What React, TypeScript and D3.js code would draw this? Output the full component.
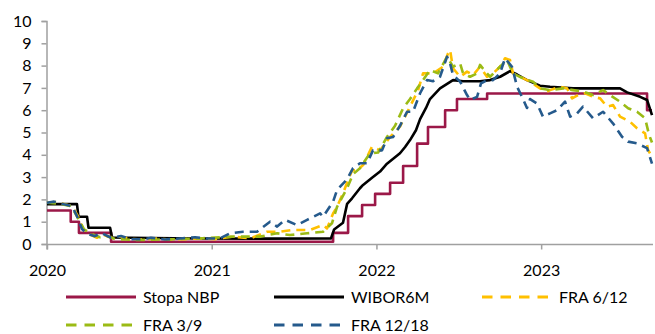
import React, { useEffect, useRef } from "react";
import * as d3 from "d3";

// Dates as decimal years, values in %
const stopaNBP: [number, number][] = [
  [2020.0, 1.5], [2020.144, 1.0], [2020.194, 0.5], [2020.389, 0.1], [2021.737, 0.5],
  [2021.828, 1.25], [2021.913, 1.75], [2021.992, 2.25], [2022.083, 2.75], [2022.162, 3.5],
  [2022.247, 4.5], [2022.313, 5.25], [2022.417, 6.0], [2022.489, 6.5], [2022.672, 6.75],
  [2023.643, 6.0], [2023.673, 6.0],
];

const wibor6M: [number, number][] = [
  [2020.0, 1.79], [2020.182, 1.79], [2020.191, 1.22], [2020.243, 1.22], [2020.252, 0.73],
  [2020.383, 0.73], [2020.395, 0.29], [2020.625, 0.27], [2020.929, 0.25], [2021.293, 0.24],
  [2021.724, 0.25], [2021.743, 0.65], [2021.797, 0.95], [2021.822, 1.8], [2021.852, 2.05],
  [2021.9, 2.5], [2021.919, 2.65], [2021.979, 3.0], [2022.022, 3.25], [2022.064, 3.6],
  [2022.143, 4.07], [2022.174, 4.35], [2022.204, 4.66], [2022.24, 5.1], [2022.265, 5.6],
  [2022.301, 6.1], [2022.325, 6.5], [2022.386, 6.98], [2022.465, 7.35], [2022.526, 7.3],
  [2022.629, 7.3], [2022.69, 7.35], [2022.751, 7.5], [2022.811, 7.75], [2022.854, 7.6],
  [2022.914, 7.35], [2022.993, 7.1], [2023.054, 7.05], [2023.194, 6.98], [2023.479, 6.98],
  [2023.522, 6.8], [2023.601, 6.6], [2023.643, 6.46], [2023.673, 5.78],
];

const fra612: [number, number][] = [
  [2020.0, 1.85], [2020.049, 1.88], [2020.109, 1.78], [2020.152, 1.7], [2020.188, 1.25],
  [2020.219, 0.66], [2020.255, 0.45], [2020.304, 0.28], [2020.346, 0.4], [2020.383, 0.3],
  [2020.443, 0.33], [2020.51, 0.22], [2020.589, 0.2], [2020.656, 0.25], [2020.747, 0.2],
  [2020.838, 0.22], [2020.929, 0.25], [2021.02, 0.22], [2021.129, 0.33], [2021.233, 0.25],
  [2021.336, 0.55], [2021.415, 0.55], [2021.494, 0.63], [2021.597, 0.63], [2021.676, 0.85],
  [2021.7, 0.7], [2021.737, 1.37], [2021.761, 1.67], [2021.797, 2.27], [2021.828, 2.87],
  [2021.852, 3.3], [2021.882, 3.3], [2021.919, 3.54], [2021.973, 4.36], [2022.022, 4.2],
  [2022.083, 4.8], [2022.143, 5.26], [2022.204, 6.16], [2022.253, 6.9], [2022.283, 7.65],
  [2022.344, 7.65], [2022.404, 7.95], [2022.435, 8.55], [2022.447, 8.7], [2022.465, 7.88],
  [2022.508, 7.5], [2022.55, 7.73], [2022.587, 7.58], [2022.629, 7.95], [2022.671, 7.5],
  [2022.708, 7.65], [2022.75, 7.95], [2022.781, 8.33], [2022.811, 8.25], [2022.829, 7.65],
  [2022.872, 7.5], [2022.933, 7.28], [2022.993, 6.98], [2023.036, 6.83], [2023.054, 6.9],
  [2023.115, 7.05], [2023.157, 6.98], [2023.188, 6.53], [2023.224, 6.68], [2023.267, 6.76],
  [2023.315, 6.6], [2023.358, 6.53], [2023.4, 6.16], [2023.437, 6.23], [2023.479, 5.71],
  [2023.54, 5.48], [2023.582, 5.19], [2023.631, 4.96], [2023.649, 4.22], [2023.673, 3.9],
];

const fra39: [number, number][] = [
  [2020.0, 1.85], [2020.079, 1.8], [2020.14, 1.7], [2020.164, 1.48], [2020.2, 1.0],
  [2020.225, 0.66], [2020.273, 0.45], [2020.322, 0.3], [2020.364, 0.36], [2020.413, 0.22],
  [2020.474, 0.2], [2020.565, 0.18], [2020.686, 0.2], [2020.808, 0.22], [2020.929, 0.25],
  [2021.129, 0.33], [2021.293, 0.33], [2021.397, 0.48], [2021.475, 0.4], [2021.579, 0.48],
  [2021.676, 0.55], [2021.73, 0.93], [2021.761, 1.67], [2021.822, 2.5], [2021.858, 3.13],
  [2021.9, 3.4], [2021.961, 4.07], [2022.01, 4.1], [2022.064, 4.8], [2022.113, 5.3],
  [2022.162, 6.09], [2022.204, 6.5], [2022.247, 6.98], [2022.283, 7.35], [2022.325, 7.8],
  [2022.374, 7.65], [2022.429, 8.4], [2022.465, 7.95], [2022.508, 8.1], [2022.526, 7.65],
  [2022.568, 7.5], [2022.611, 7.65], [2022.629, 8.03], [2022.671, 7.65], [2022.69, 7.5],
  [2022.75, 7.95], [2022.793, 8.25], [2022.829, 7.65], [2022.89, 7.43], [2022.951, 7.28],
  [2022.993, 6.98], [2023.054, 6.9], [2023.133, 6.98], [2023.194, 6.9], [2023.254, 6.83],
  [2023.315, 6.68], [2023.376, 6.9], [2023.418, 6.68], [2023.479, 6.38], [2023.528, 6.09],
  [2023.582, 5.93], [2023.631, 5.64], [2023.655, 4.9], [2023.673, 4.55],
];

const fra1218: [number, number][] = [
  [2020.0, 1.85], [2020.043, 1.9], [2020.103, 1.78], [2020.152, 1.7], [2020.182, 1.25],
  [2020.213, 0.66], [2020.255, 0.43], [2020.291, 0.35], [2020.328, 0.5], [2020.389, 0.28],
  [2020.449, 0.36], [2020.51, 0.21], [2020.589, 0.21], [2020.631, 0.28], [2020.716, 0.2],
  [2020.808, 0.25], [2020.899, 0.3], [2020.971, 0.25], [2021.05, 0.25], [2021.111, 0.48],
  [2021.19, 0.55], [2021.275, 0.55], [2021.354, 1.0], [2021.397, 0.78], [2021.445, 1.08],
  [2021.518, 0.85], [2021.579, 1.08], [2021.597, 1.15], [2021.658, 1.37], [2021.676, 1.22],
  [2021.737, 1.9], [2021.761, 2.42], [2021.822, 2.9], [2021.858, 3.4], [2021.9, 3.62],
  [2021.943, 3.62], [2021.979, 4.2], [2022.034, 4.2], [2022.064, 4.74], [2022.101, 4.8],
  [2022.143, 5.3], [2022.186, 5.93], [2022.222, 5.93], [2022.265, 6.76], [2022.307, 7.35],
  [2022.344, 7.3], [2022.386, 7.5], [2022.429, 8.4], [2022.447, 8.1], [2022.465, 7.58],
  [2022.508, 7.28], [2022.55, 6.68], [2022.568, 6.46], [2022.611, 6.6], [2022.635, 7.2],
  [2022.671, 7.35], [2022.708, 7.35], [2022.75, 7.65], [2022.781, 8.33], [2022.823, 7.95],
  [2022.854, 7.05], [2022.89, 6.5], [2022.914, 6.1], [2022.933, 6.5], [2022.975, 6.3],
  [2023.011, 5.71], [2023.054, 5.86], [2023.097, 6.0], [2023.145, 6.38], [2023.176, 5.71],
  [2023.218, 5.86], [2023.254, 6.16], [2023.315, 5.64], [2023.376, 5.93], [2023.437, 5.4],
  [2023.491, 4.81], [2023.528, 4.59], [2023.582, 4.51], [2023.643, 4.3], [2023.673, 3.6],
];

const yearTicks = [2020, 2021, 2022, 2023];
const valueTicks = [0, 1, 2, 3, 4, 5, 6, 7, 8, 9, 10];

const seriesNames = ["Stopa NBP", "WIBOR6M", "FRA 6/12", "FRA 3/9", "FRA 12/18"];
const seriesColors = ["#9B1848", "#000000", "#FFC000", "#9BBB15", "#255A8C"];
const seriesDashed = [false, false, true, true, true];
const seriesData = [stopaNBP, wibor6M, fra612, fra39, fra1218];

const W = 655;
const H = 334;
const FONT = "Lato, 'Liberation Sans', sans-serif";

export default function App() {
  const ref = useRef<SVGSVGElement | null>(null);

  useEffect(() => {
    const svg = d3.select(ref.current);
    svg.selectAll("*").remove();

    const x = d3.scaleLinear().domain([2020, 2023.673]).range([47, 652]);
    const y = d3.scaleLinear().domain([0, 10]).range([244, 21]);

    // axes
    const yAxis = svg
      .append("g")
      .attr("transform", "translate(46.5,0)")
      .call(
        d3.axisLeft(y).tickValues(valueTicks).tickFormat(d3.format("d")).tickSize(5).tickPadding(10)
      );
    const xAxis = svg
      .append("g")
      .attr("transform", "translate(0,244.5)")
      .call(
        d3.axisBottom(x).tickValues(yearTicks).tickFormat(d3.format("d")).tickSize(5).tickPadding(15)
      );
    [xAxis, yAxis].forEach((g) => {
      g.select(".domain").attr("stroke", "#A0A0A0").attr("stroke-width", 1.5);
      g.selectAll(".tick line").attr("stroke", "#A0A0A0").attr("stroke-width", 1.5);
      g.selectAll("text")
        .attr("font-family", FONT)
        .attr("font-size", 16)
        .attr("fill", "#000");
    });
    xAxis.select(".domain").attr("d", `M${x(2020)},5V0H${W - 2}`);

    // lines
    const stepLine = d3
      .line<[number, number]>()
      .x((d) => x(d[0]))
      .y((d) => y(d[1]))
      .curve(d3.curveStepAfter);
    const line = d3
      .line<[number, number]>()
      .x((d) => x(d[0]))
      .y((d) => y(d[1]));

    const plot = svg.append("g");
    seriesData.forEach((data, i) => {
      plot
        .append("path")
        .datum(data)
        .attr("d", i === 0 ? stepLine(data) : line(data))
        .attr("fill", "none")
        .attr("stroke", seriesColors[i])
        .attr("stroke-width", 2.6)
        .attr("stroke-linejoin", "round")
        .attr("stroke-dasharray", seriesDashed[i] ? "9,6" : null);
    });

    // legend
    const legendX = [66, 274, 482];
    const legendY = [297, 325];
    const legend = svg.append("g");
    seriesNames.forEach((name, i) => {
      const col = i % 3;
      const row = Math.floor(i / 3);
      const lx = legendX[col];
      const ly = legendY[row];
      legend
        .append("line")
        .attr("x1", lx)
        .attr("x2", lx + 70)
        .attr("y1", ly)
        .attr("y2", ly)
        .attr("stroke", seriesColors[i])
        .attr("stroke-width", 2.8)
        .attr("stroke-dasharray", seriesDashed[i] ? "10.5,8" : null);
      legend
        .append("text")
        .attr("x", lx + 77)
        .attr("y", ly)
        .attr("dy", "0.35em")
        .attr("font-family", FONT)
        .attr("font-size", 16)
        .attr("fill", "#000")
        .text(name);
    });
  }, []);

  return (
    <svg
      ref={ref}
      width={W}
      height={H}
      style={{ position: "absolute", left: 0, top: 0, background: "#fff" }}
    />
  );
}
